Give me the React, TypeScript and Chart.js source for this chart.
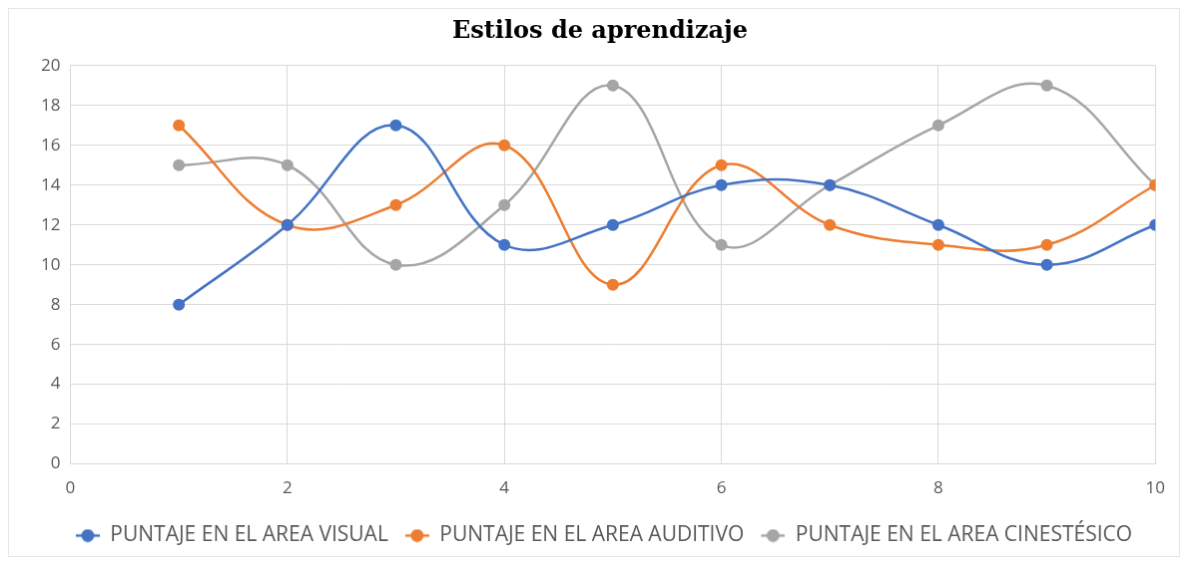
import React, { useEffect, useRef } from "react";
import { Chart, registerables } from "chart.js";

Chart.register(...registerables);

const xValues = [1, 2, 3, 4, 5, 6, 7, 8, 9, 10];
const visual = [8, 12, 17, 11, 12, 14, 14, 12, 10, 12];
const auditivo = [17, 12, 13, 16, 9, 15, 12, 11, 11, 14];
const cinestesico = [15, 15, 10, 13, 19, 11, 14, 17, 19, 14];
const seriesNames = [
  "PUNTAJE EN EL AREA VISUAL",
  "PUNTAJE EN EL AREA AUDITIVO",
  "PUNTAJE EN EL AREA CINESTÉSICO",
];
const colors = ["#4472C4", "#ED7D31", "#A5A5A5"];
const title = "Estilos de aprendizaje";

const FONT = "'Open Sans', sans-serif";
const ICON_W = 32;

function legendIcon(color: string): HTMLCanvasElement {
  const c = document.createElement("canvas");
  c.width = ICON_W;
  c.height = 14;
  const ctx = c.getContext("2d")!;
  ctx.strokeStyle = color;
  ctx.lineWidth = 2.5;
  ctx.beginPath();
  ctx.moveTo(ICON_W - 24, 7);
  ctx.lineTo(ICON_W, 7);
  ctx.stroke();
  ctx.fillStyle = color;
  ctx.beginPath();
  ctx.arc(ICON_W - 12, 7, 6.5, 0, Math.PI * 2);
  ctx.fill();
  return c;
}

export default function App() {
  const ref = useRef<HTMLCanvasElement>(null);
  useEffect(() => {
    const all = [visual, auditivo, cinestesico];
    const chart = new Chart(ref.current!, {
      type: "line",
      data: {
        datasets: all.map((arr, i) => ({
          label: seriesNames[i],
          data: arr.map((y, j) => ({ x: xValues[j], y })),
          borderColor: colors[i],
          backgroundColor: colors[i],
          borderWidth: 2.5,
          pointRadius: 6,
          pointHoverRadius: 6,
          pointBorderWidth: 0,
          tension: 0.4,
          fill: false,
        })),
      },
      options: {
        animation: false,
        responsive: false,
        maintainAspectRatio: false,
        layout: { padding: { left: 22, right: 10, top: 2, bottom: 0 } },
        plugins: {
          title: {
            display: true,
            text: title,
            font: { family: "'DejaVu Serif', serif", size: 24, weight: "bold" },
            color: "#000",
            padding: { top: 6, bottom: 20 },
          },
          legend: {
            position: "bottom",
            labels: {
              font: { family: FONT, size: 21 },
              color: "#595959",
              usePointStyle: true,
              pointStyleWidth: ICON_W,
              padding: 9,
              generateLabels: (ch: any) =>
                ch.data.datasets.map((d: any, i: number) => ({
                  text: d.label,
                  fillStyle: colors[i],
                  strokeStyle: colors[i],
                  pointStyle: legendIcon(colors[i]),
                  datasetIndex: i,
                  hidden: false,
                  lineWidth: 0,
                  fontColor: "#595959",
                })),
            },
          },
          tooltip: { enabled: false },
        },
        scales: {
          x: {
            type: "linear",
            min: 0,
            max: 10,
            afterFit: (scale: any) => {
              scale.height += 4;
            },
            ticks: {
              stepSize: 2,
              color: "#595959",
              font: { family: FONT, size: 17 },
              padding: 14,
            },
            grid: { color: "#d9d9d9", drawTicks: false },
            border: { color: "#d9d9d9" },
          },
          y: {
            min: 0,
            max: 20,
            ticks: {
              stepSize: 2,
              color: "#595959",
              font: { family: FONT, size: 17 },
              padding: 10,
            },
            grid: { color: "#d9d9d9", drawTicks: false },
            border: { color: "#d9d9d9" },
          },
        },
      },
    });
    return () => chart.destroy();
  }, []);
  return (
    <div style={{ width: 1172, height: 549, background: "#fff" }}>
      <canvas ref={ref} width={1172} height={549} style={{ border: "1px solid #e6e6e6", boxSizing: "border-box" }} />
    </div>
  );
}
